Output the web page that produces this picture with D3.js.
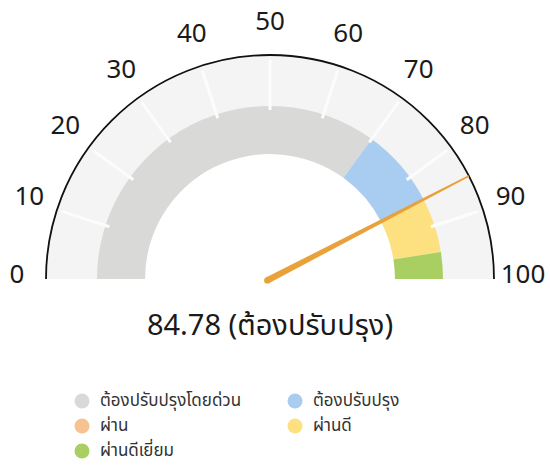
<html lang="th">
	<head>
		<meta charset="utf-8">
		<title>Gauge</title>
		<script src="https://d3js.org/d3.v7.min.js"></script>
		<style type="text/css">
			body {
				margin: 0;
				background-color: white;
			}
			text {
				font-family: "Noto Sans Thai", "Noto Sans", sans-serif;
			}
		</style>
	</head>
	<body>
		<script type="text/javascript">

			//Data
			var categories = ["ต้องปรับปรุงโดยด่วน", "ต้องปรับปรุง", "ผ่าน", "ผ่านดี", "ผ่านดีเยี่ยม"];
			var bandStart = [0, 70, 85, 85, 95];
			var bandEnd = [70, 85, 85, 95, 100];
			var colors = ["#d9dad7", "#a9cdf1", "#f7c290", "#fde07f", "#a9cf63"];
			var tickValues = [0, 10, 20, 30, 40, 50, 60, 70, 80, 90, 100];
			var score = 84.78;
			var scoreText = "84.78 (ต้องปรับปรุง)";

			//Width and height
			var w = 550;
			var h = 465;
			var cx = 270;
			var cy = 279;
			var rOuter = 224;
			var rBandIn = 125;
			var rBandOut = 173;

			//Angle scale (d3.arc angles, clockwise from 12 o'clock)
			var aScale = d3.scaleLinear()
					.domain([0, 100])
					.range([-Math.PI / 2, Math.PI / 2]);

			function px(v, r) { return cx + r * Math.sin(aScale(v)); }
			function py(v, r) { return cy - r * Math.cos(aScale(v)); }

			var svg = d3.select("body")
						.append("svg")
						.attr("width", w)
						.attr("height", h);

			var g = svg.append("g")
						.attr("transform", "translate(" + cx + "," + cy + ")");

			//Light background track
			g.append("path")
				.attr("d", d3.arc()
					.innerRadius(rBandIn)
					.outerRadius(rOuter - 1)
					.startAngle(aScale(0))
					.endAngle(aScale(100)))
				.attr("fill", "#f4f4f4");

			//Coloured bands
			g.selectAll("path.band")
				.data(categories)
				.enter()
				.append("path")
				.attr("class", "band")
				.attr("d", function(d, i) {
					return d3.arc()
						.innerRadius(rBandIn)
						.outerRadius(rBandOut)
						.startAngle(aScale(bandStart[i]))
						.endAngle(aScale(bandEnd[i]))();
				})
				.attr("fill", function(d, i) { return colors[i]; });

			//White separators every 10
			svg.selectAll("line.sep")
				.data(tickValues.slice(1, -1))
				.enter()
				.append("line")
				.attr("class", "sep")
				.attr("x1", function(d) { return px(d, 169); })
				.attr("y1", function(d) { return py(d, 169); })
				.attr("x2", function(d) { return px(d, 219); })
				.attr("y2", function(d) { return py(d, 219); })
				.attr("stroke", "#fcfcfc")
				.attr("stroke-width", 3);

			//Outer black arc
			var p = d3.path();
			p.arc(0, 0, rOuter, Math.PI, 2 * Math.PI);
			g.append("path")
				.attr("d", p.toString())
				.attr("fill", "none")
				.attr("stroke", "#111")
				.attr("stroke-width", 1.8);

			//Tick labels
			svg.selectAll("text.tick")
				.data(tickValues)
				.enter()
				.append("text")
				.attr("class", "tick")
				.attr("x", function(d) { return px(d, 253); })
				.attr("y", function(d) { return py(d, 253) - 4; })
				.attr("text-anchor", "middle")
				.attr("dominant-baseline", "central")
				.attr("font-size", "26px")
				.attr("fill", "#1a1a1a")
				.text(function(d) { return d; });

			//Needle
			var a = aScale(score);
			var needle = d3.path();
			var len = rOuter, back = 3, wBase = 3.2, wTip = 0.8;
			var ux = Math.sin(a), uy = -Math.cos(a);
			var nx = -uy, ny = ux;
			needle.moveTo(-back * ux + wBase * nx, -back * uy + wBase * ny);
			needle.lineTo(len * ux + wTip * nx, len * uy + wTip * ny);
			needle.lineTo(len * ux - wTip * nx, len * uy - wTip * ny);
			needle.lineTo(-back * ux - wBase * nx, -back * uy - wBase * ny);
			needle.closePath();
			g.append("path")
				.attr("d", needle.toString())
				.attr("fill", "#e9a13a");
			g.append("circle")
				.attr("cx", -back * ux)
				.attr("cy", -back * uy)
				.attr("r", wBase)
				.attr("fill", "#e9a13a");

			//Score text
			svg.append("text")
				.attr("x", 270)
				.attr("y", 335)
				.attr("text-anchor", "middle")
				.attr("font-size", "29px")
				.attr("fill", "#1a1a1a")
				.text(scoreText);

			//Legend
			var legend = svg.selectAll("g.legend")
				.data(categories)
				.enter()
				.append("g")
				.attr("class", "legend")
				.attr("transform", function(d, i) {
					return "translate(" + (82 + (i % 2) * 213) + "," + (401 + Math.floor(i / 2) * 25) + ")";
				});

			legend.append("circle")
				.attr("r", 7.5)
				.attr("fill", function(d, i) { return colors[i]; });

			legend.append("text")
				.attr("x", 18)
				.attr("y", 5)
				.attr("font-size", "17px")
				.attr("fill", "#333")
				.text(function(d) { return d; });

		</script>
	</body>
</html>
